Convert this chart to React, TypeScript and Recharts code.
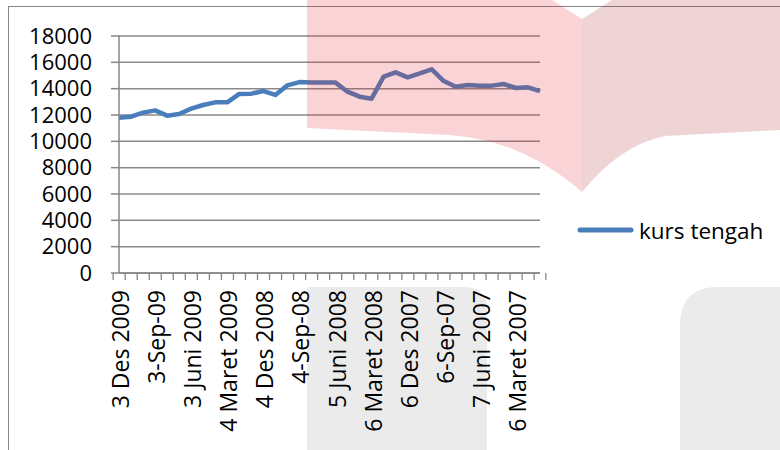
import React from 'react';
import { LineChart, Line, XAxis, YAxis, CartesianGrid, Legend } from 'recharts';

const categories = [
  '3 Des 2009', '3 Nov 2009', '2 Okt 2009', '3-Sep-09', '3 Agust 2009', '3 Juli 2009',
  '3 Juni 2009', '4 Mei 2009', '3 April 2009', '4 Maret 2009', '4 Feb 2009', '5 Jan 2009',
  '4 Des 2008', '4 Nov 2008', '6 Okt 2008', '4-Sep-08', '5 Agust 2008', '4 Juli 2008',
  '5 Juni 2008', '6 Mei 2008', '4 April 2008', '6 Maret 2008', '6 Feb 2008', '4 Jan 2008',
  '6 Des 2007', '6 Nov 2007', '5 Okt 2007', '6-Sep-07', '6 Agust 2007', '5 Juli 2007',
  '7 Juni 2007', '7 Mei 2007', '4 April 2007', '6 Maret 2007', '6 Feb 2007', '5 Jan 2007',
];

const kursTengah = [
  11800, 11870, 12180, 12350, 11950, 12080, 12480, 12760, 12960, 12960, 13600, 13620,
  13820, 13520, 14250, 14500, 14460, 14460, 14460, 13770, 13390, 13240, 14910, 15240,
  14860, 15160, 15470, 14580, 14150, 14280, 14230, 14230, 14350, 14050, 14100, 13820,
];

const yTicks = [0, 2000, 4000, 6000, 8000, 10000, 12000, 14000, 16000, 18000];

const data = categories.map((name, i) => ({ name, kurs: kursTengah[i] }));

const FONT = '"Open Sans", sans-serif';
const AXIS = '#868686';
const BLUE = '#4a7ebb';

const PLOT_LEFT = 119;
const PLOT_RIGHT = 540;
const STEP = (PLOT_RIGHT - PLOT_LEFT) / categories.length;

// Excel-style category axis: tick marks between categories, label on every 3rd
const CategoryTick = (props: any) => {
  const { x, y, index, payload } = props;
  const i = index ?? payload?.index ?? 0;
  const ty = y + 17;
  return (
    <g>
      <line x1={x - STEP / 2} x2={x - STEP / 2} y1={y} y2={y + 7} stroke={AXIS} strokeWidth={1.3} />
      {i === categories.length - 1 && (
        <line x1={x + STEP / 2} x2={x + STEP / 2} y1={y} y2={y + 7} stroke={AXIS} strokeWidth={1.3} />
      )}
      {i % 3 === 0 && (
        <text
          x={x + 1}
          y={ty}
          transform={`rotate(-90, ${x + 1}, ${ty})`}
          textAnchor="end"
          dominantBaseline="central"
          fontFamily={FONT}
          fontSize={23}
          fill="#000"
        >
          {payload.value}
        </text>
      )}
    </g>
  );
};

const renderLegend = () => (
  <svg width={200} height={34}>
    <line x1={5} x2={56} y1={15} y2={15} stroke={BLUE} strokeWidth={5} strokeLinecap="round" />
    <text x={64} y={24} fontFamily={FONT} fontSize={22.5} fill="#000">kurs tengah</text>
  </svg>
);

export default function App() {
  return (
    <div style={{ position: 'absolute', left: 0, top: 0, width: 780, height: 450, overflow: 'hidden', background: '#fff' }}>
      <div
        style={{
          position: 'absolute',
          left: 8,
          top: 6,
          width: 800,
          height: 460,
          borderTop: `1.5px solid ${AXIS}`,
          borderLeft: `1.5px solid ${AXIS}`,
        }}
      />
      <div style={{ position: 'absolute', left: 0, top: 0 }}>
        <LineChart width={780} height={450} data={data} margin={{ top: 36, right: 780 - PLOT_RIGHT, bottom: 0, left: 0 }}>
          <CartesianGrid vertical={false} stroke="#8a8a8a" strokeWidth={1.5} />
          <XAxis
            dataKey="name"
            height={177}
            interval={0}
            tickLine={false}
            tickSize={0}
            tickMargin={0}
            axisLine={{ stroke: AXIS, strokeWidth: 1.5 }}
            tick={<CategoryTick />}
          />
          <YAxis
            width={PLOT_LEFT}
            domain={[0, 18000]}
            ticks={yTicks}
            interval={0}
            tickSize={8}
            tickMargin={19}
            axisLine={{ stroke: AXIS, strokeWidth: 1.5 }}
            tickLine={{ stroke: AXIS, strokeWidth: 1.5 }}
            tick={{ fontFamily: FONT, fontSize: 22, fill: '#000' }}
          />
          <Legend
            layout="horizontal"
            align="center"
            verticalAlign="middle"
            content={renderLegend}
            wrapperStyle={{ left: 575, top: 215, width: 200, height: 34 }}
          />
          <Line
            type="linear"
            dataKey="kurs"
            name="kurs tengah"
            stroke={BLUE}
            strokeWidth={4.5}
            strokeLinejoin="round"
            dot={false}
            isAnimationActive={false}
          />
        </LineChart>
      </div>
      {/* faint watermark shapes laid over the chart */}
      <svg width={780} height={450} style={{ position: 'absolute', left: 0, top: 0, pointerEvents: 'none' }}>
        <path d="M307,0 L552,0 L582,19 L582,192 Q522,140 450,135 L307,128 Z" fill="rgba(225,35,45,0.2)" />
        <path d="M582,19 L612,0 L780,0 L780,130 L665,136 Q620,145 582,192 Z" fill="rgba(175,40,50,0.2)" />
        <path d="M307,450 L307,287 L464,287 Q487,287 487,310 L487,450 Z" fill="rgba(0,0,0,0.078)" />
        <path d="M680,450 L680,325 Q680,287 718,287 L780,287 L780,450 Z" fill="rgba(0,0,0,0.078)" />
      </svg>
    </div>
  );
}
